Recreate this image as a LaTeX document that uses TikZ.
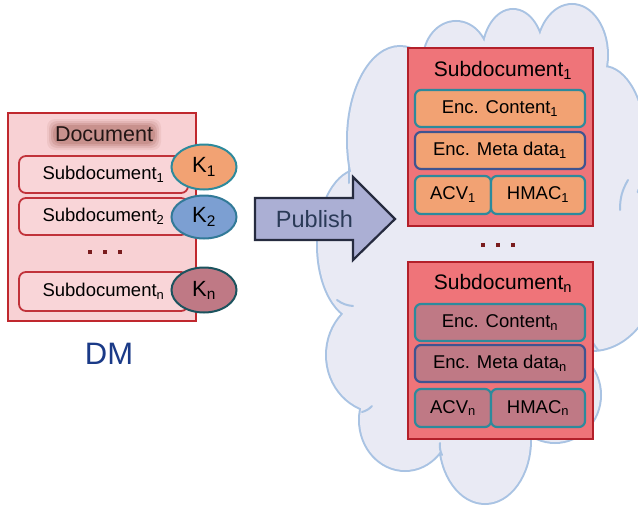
\documentclass[tikz,border=0pt]{standalone}
\usepackage{fontspec}
\setmainfont{Liberation Sans}
\usetikzlibrary{shapes.geometric}

\definecolor{cloudfill}{HTML}{E9EAF4}
\definecolor{cloudline}{HTML}{A9C3E3}
\definecolor{docfill}{HTML}{F8D1D4}
\definecolor{docline}{HTML}{C0282E}
\definecolor{subfill}{HTML}{F9D5D8}
\definecolor{subline}{HTML}{C1323A}
\definecolor{glow}{HTML}{B07068}
\definecolor{rboxfill}{HTML}{EF7479}
\definecolor{rboxline}{HTML}{B3202A}
\definecolor{orangefill}{HTML}{F2A273}
\definecolor{mauvefill}{HTML}{BF7985}
\definecolor{bluefill}{HTML}{7C9FD2}
\definecolor{tealline}{HTML}{2D8A9C}
\definecolor{metaline}{HTML}{3F5490}
\definecolor{arrowfill}{HTML}{ABAFD4}
\definecolor{arrowline}{HTML}{262B3F}
\definecolor{arrowtext}{HTML}{2A3A57}
\definecolor{dmblue}{HTML}{1A3A87}
\definecolor{dotcol}{HTML}{7A1C1E}

\newcommand\sbs[1]{\textsubscript{#1}}

\tikzset{
  lbox/.style={rectangle, draw=subline, fill=subfill, line width=1.8pt,
    rounded corners=7pt, minimum width=169pt, minimum height=37pt,
    inner sep=0pt, font=\fontsize{18.5}{20}\selectfont},
  keynode/.style={ellipse, line width=2pt, minimum width=65pt,
    minimum height=45pt, inner sep=0pt, font=\fontsize{22}{24}\selectfont},
  rbox/.style={rectangle, draw=rboxline, fill=rboxfill, line width=2.2pt,
    minimum width=185pt, minimum height=177pt, inner sep=0pt},
  rtitle/.style={font=\fontsize{21}{23}\selectfont, inner sep=0pt},
  field/.style={rectangle, line width=2.2pt, rounded corners=6pt,
    minimum height=37pt, inner sep=0pt, font=\fontsize{18.5}{20}\selectfont},
  dotsq/.style={rectangle, fill=dotcol, minimum size=4.5pt, inner sep=0pt},
}

\begin{document}
\begin{tikzpicture}[x=1pt,y=-1pt]
\useasboundingbox (0,0) rectangle (638,506);
\fill[white] (0,0) rectangle (638,506);

% ---------- cloud ----------
\def\humps{%
  (400,140) ellipse [x radius=52, y radius=93]
  (456,60) ellipse [x radius=32, y radius=38]
  (513,55) ellipse [x radius=30, y radius=45]
  (572,55) ellipse [x radius=35, y radius=50]
  (603,145) ellipse [x radius=42, y radius=78]
  (592,260) ellipse [x radius=68, y radius=90]
  (555,395) ellipse [x radius=45, y radius=47]
  (485,440) ellipse [x radius=45, y radius=63]
  (405,420) ellipse [x radius=45, y radius=50]
  (380,355) ellipse [x radius=53, y radius=57]
  (360,245) ellipse [x radius=42, y radius=75]}
\draw[cloudline, line width=4pt] \humps;
\fill[cloudfill] \humps;
\fill[cloudfill] (400,140) -- (456,60) -- (513,55) -- (572,55) -- (603,145)
  -- (592,260) -- (555,395) -- (485,440) -- (405,420) -- (380,355)
  -- (360,245) -- cycle;
% small inner folds of the cloud
\begin{scope}[cloudline, line width=2pt, line cap=round]
  \draw (349,168) -- (349,183);
  \draw (337,300) to[bend right=15] (353,306);
  \draw (362,412) to[bend right=15] (372,406);
  \draw (442,455) to[bend left=15] (440,443);
  \draw (620,210) to[bend left=15] (628,180);
  \draw (598,350) to[bend left=10] (590,336);
\end{scope}

% ---------- document on the left ----------
\node[rectangle, draw=docline, fill=docfill, line width=2pt,
  minimum width=188pt, minimum height=208pt, inner sep=0pt] (doc) at (102,217) {};
\foreach \e/\o in {6/0.12,4/0.18,2/0.25,0/0.35} {
  \fill[glow, opacity=\o, rounded corners=8pt]
    (53-\e,125-\e) rectangle (155+\e,144+\e);
}
\node[font=\fontsize{21.5}{23}\selectfont, inner sep=0pt, text=black!80!glow]
  (doctitle) at (104,134) {Document};

\node[lbox] (sub1) at (103.5,174.5) {Subdocument\sbs{1}};
\node[lbox] (sub2) at (103.5,216.5) {Subdocument\sbs{2}};
\node[lbox, minimum height=39pt] (subn) at (103.5,291.5) {Subdocument\sbs{n}};

\node[dotsq] (ld1) at (90,252) {};
\node[dotsq] (ld2) at (105,252) {};
\node[dotsq] (ld3) at (120,252) {};

\node[keynode, fill=orangefill, draw=tealline] (k1) at (204,167) {K\sbs{1}};
\node[keynode, fill=bluefill, draw=tealline!70!metaline, minimum height=43pt] (k2) at (204,217) {K\sbs{2}};
\node[keynode, fill=mauvefill, draw=tealline!60!black] (kn) at (204,290) {K\sbs{n}};

\node[font=\fontsize{31}{33}\selectfont, text=dmblue, inner sep=0pt] (dm) at (109,354) {DM};

% ---------- publish arrow ----------
\draw[fill=arrowfill, draw=arrowline, line width=2.2pt, line join=miter]
  (255,198) -- (353,198) -- (353,177) -- (395,219) -- (353,260)
  -- (353,240) -- (255,240) -- cycle;
\node[font=\fontsize{23.5}{25}\selectfont, text=arrowtext, inner sep=0pt]
  (publish) at (314.5,219) {Publish};

% ---------- encrypted subdocument 1 ----------
\node[rbox, minimum height=178pt] (box1) at (500.5,137) {};
\node[rtitle] (t1) at (503,70) {Subdocument\sbs{1}};
\node[field, fill=orangefill, draw=tealline, minimum width=170pt] (c1) at (500,108.5) {Enc. Content\sbs{1}};
\node[field, fill=orangefill, draw=metaline, minimum width=170pt] (m1) at (500,150.5) {Enc. Meta data\sbs{1}};
\node[field, fill=orangefill, draw=tealline, minimum width=76pt, minimum height=38pt] (a1) at (453,195) {ACV\sbs{1}};
\node[field, fill=orangefill, draw=tealline, minimum width=94pt, minimum height=38pt] (h1) at (538,195) {HMAC\sbs{1}};

\node[dotsq] (rd1) at (483,245) {};
\node[dotsq] (rd2) at (498,245) {};
\node[dotsq] (rd3) at (513,245) {};

% ---------- encrypted subdocument n ----------
\node[rbox] (boxn) at (500.5,350.5) {};
\node[rtitle] (tn) at (503,283) {Subdocument\sbs{n}};
\node[field, fill=mauvefill, draw=tealline, minimum width=170pt] (cn) at (500,322.5) {Enc. Content\sbs{n}};
\node[field, fill=mauvefill, draw=metaline, minimum width=170pt] (mn) at (500,363.5) {Enc. Meta data\sbs{n}};
\node[field, fill=mauvefill, draw=tealline, minimum width=76pt, minimum height=38pt] (an) at (453,408) {ACV\sbs{n}};
\node[field, fill=mauvefill, draw=tealline, minimum width=94pt, minimum height=38pt] (hn) at (538,408) {HMAC\sbs{n}};
\end{tikzpicture}
\end{document}
